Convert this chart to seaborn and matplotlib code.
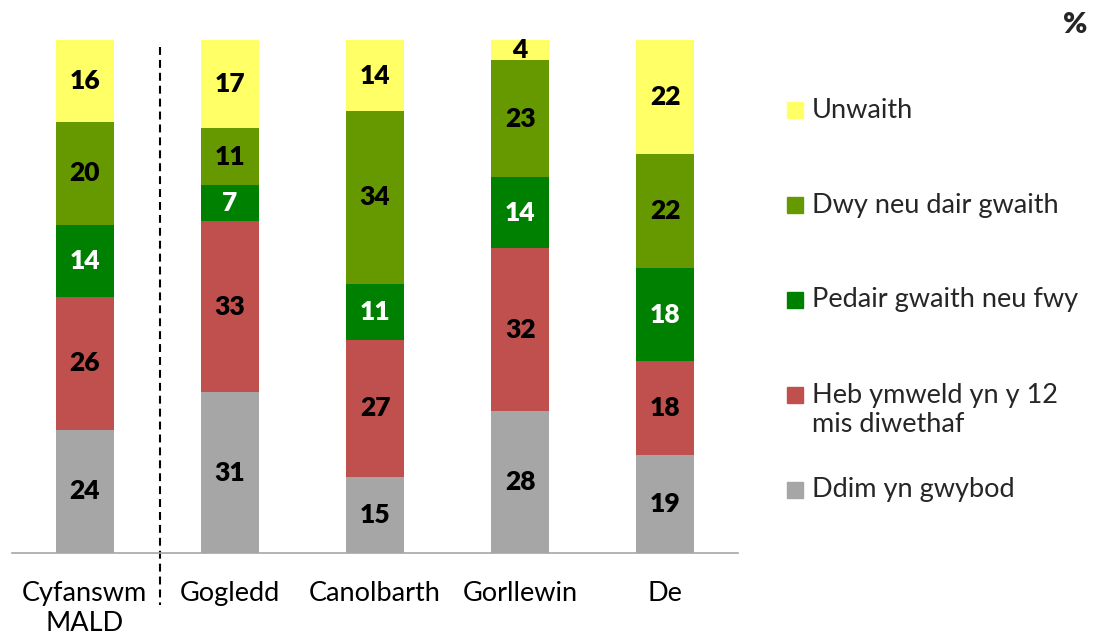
import numpy as np
import matplotlib
matplotlib.use("Agg")
import matplotlib.pyplot as plt
from matplotlib.patches import Rectangle
import seaborn as sns

categories = ["Cyfanswm\nMALD", "Gogledd", "Canolbarth", "Gorllewin", "De"]
series_names = ["Ddim yn gwybod", "Heb ymweld yn y 12\nmis diwethaf",
                "Pedair gwaith neu fwy", "Dwy neu dair gwaith", "Unwaith"]
ddim = [24, 31, 15, 28, 19]
heb = [26, 33, 27, 32, 18]
pedair = [14, 7, 11, 14, 18]
dwy = [20, 11, 34, 23, 22]
unwaith = [16, 17, 14, 4, 22]
colors = ["#A6A6A6", "#C0504D", "#008000", "#669900", "#FFFF66"]
text_colors = ["black", "black", "white", "black", "black"]

sns.set_theme(style="white")
plt.rcParams["font.family"] = ["Lato", "DejaVu Sans"]

fig = plt.figure(figsize=(11, 6.4), dpi=100)
ax = fig.add_axes([12/1100, 1-553/640, (738-12)/1100, (553-40)/640])

data = np.array([ddim, heb, pedair, dwy, unwaith], dtype=float)
totals = data.sum(axis=0)
scaled = data / totals * 100  # 100% stacked
cum = np.cumsum(scaled, axis=0)

# draw from the top layer down so lower layers overlay
for i in range(len(series_names) - 1, -1, -1):
    sns.barplot(x=list(range(len(categories))), y=cum[i], color=colors[i],
                saturation=1, width=0.4, linewidth=0, ax=ax, native_scale=True)

# labels
for i in range(len(series_names)):
    for j in range(len(categories)):
        base = cum[i - 1][j] if i > 0 else 0
        ax.text(j, base + scaled[i][j] / 2, f"{int(data[i][j])}", ha="center",
                va="center", fontsize=19, fontweight="heavy", color=text_colors[i])

ax.set_xlim(-0.5, 4.5)
ax.set_ylim(0, 100)
ax.set_yticks([])
for s in ["top", "right", "left"]:
    ax.spines[s].set_visible(False)
ax.spines["bottom"].set_color("#A6A6A6")
ax.spines["bottom"].set_linewidth(1.2)

ax.set_xticks(range(len(categories)))
ax.set_xticklabels(categories, fontsize=19.5, linespacing=1.28)
ax.set_xticks(np.arange(-0.5, 5, 1), minor=True)
ax.tick_params(axis="x", which="major", length=0, pad=20, colors="black")
ax.tick_params(axis="x", which="minor", length=7, width=1.2, color="#A6A6A6",
               direction="out")
ax.set_xlabel("")
ax.set_ylabel("")

# dashed separator
ax.plot([0.52, 0.52], [98.6, -10.1], color="black", lw=1.5,
        linestyle=(0, (3.8, 2.4)), clip_on=False)

# legend (manual placement)
leg_y = [490, 410, 300, 205, 110]
for i in range(len(series_names)):
    yc = 1 - leg_y[i] / 640
    if i == 1:
        ym = 1 - 395 / 640
    else:
        ym = yc
    fig.patches.append(Rectangle((787/1100, ym - 8/640), 16/1100, 16/640,
                                 transform=fig.transFigure, color=colors[i]))
    fig.text(812/1100, yc, series_names[i], ha="left", va="center",
             fontsize=19.5, linespacing=1.17)

fig.text(1075/1100, 1 - 25/640, "%", ha="center", va="center",
         fontsize=21, fontweight="heavy")

fig.savefig("out.png", dpi=100)
